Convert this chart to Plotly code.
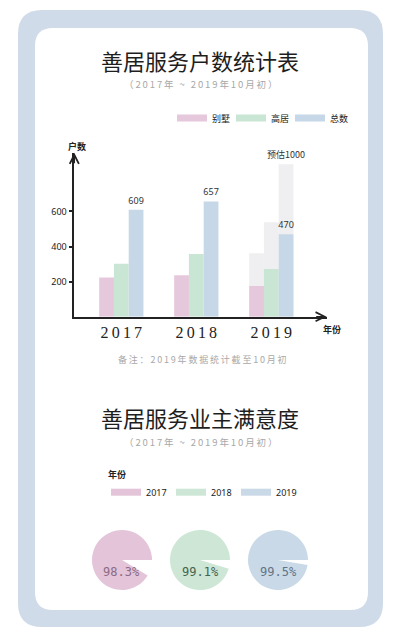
import plotly.graph_objects as go

W, H = 395, 643

# ---------------- data ----------------
years = [2017, 2018, 2019]
year_labels = ["2017", "2018", "2019"]
villa = [224, 236, 175]          # 别墅
highrise = [302, 357, 272]       # 高居
total = [609, 657, 470]          # 总数
total_text = ["609", "657", "470"]
est_year = [2019]
est_villa = [361]
est_highrise = [538]
est_total = [868]
est_text = ["预估1000"]
y_ticks = [200, 400, 600]

sat_years = ["2017", "2018", "2019"]
satisfaction = [98.3, 99.1, 99.5]

series_names = ["别墅", "高居", "总数"]

# ---------------- style ----------------
PINK, GREEN, BLUE = "#e6c8dc", "#c9e5d3", "#c6d8e7"
PIE_COLORS = ["#e3c4d9", "#cde6d5", "#c9d9e7"]
PIE_TEXT = ["#8a6a85", "#45624f", "#627386"]
GHOST = "#efeff1"
FRAME = "#cfdbe8"
GAP_SCALE = 5.5  # visual exaggeration of the unsatisfied wedge, as in the reference
THIN = "\u2009"

def spaced(s):
    return THIN.join(list(s))

def px(x):
    return x / W

def py(y):
    return 1 - y / H

def rounded(x0, y0, x1, y1, r):
    pts = [
        ("M", (x0 + r, y0)), ("L", (x1 - r, y0)),
        ("Q", (x1, y0), (x1, y0 + r)), ("L", (x1, y1 - r)),
        ("Q", (x1, y1), (x1 - r, y1)), ("L", (x0 + r, y1)),
        ("Q", (x0, y1), (x0, y1 - r)), ("L", (x0, y0 + r)),
        ("Q", (x0, y0), (x0 + r, y0)),
    ]
    s = ""
    for p in pts:
        s += p[0] + " " + " ".join(f"{px(a):.5f},{py(b):.5f}" for a, b in p[1:]) + " "
    return s + "Z"

fig = go.Figure()

# ghost (estimated) bars behind
for vals, grp in [(est_villa, "a"), (est_highrise, "b")]:
    fig.add_trace(go.Bar(x=est_year, y=vals, marker_color=GHOST, offsetgroup=grp,
                         showlegend=False, hoverinfo="skip", marker_line_width=0))
fig.add_trace(go.Bar(x=est_year, y=est_total, marker_color=GHOST, offsetgroup="c",
                     text=est_text, textposition="outside", cliponaxis=False, constraintext="none",
                     textfont=dict(size=9, color="#333", family="Noto Sans CJK SC"),
                     showlegend=False, hoverinfo="skip", marker_line_width=0))

# main bars
for name, vals, col, grp in [(series_names[0], villa, PINK, "a"),
                             (series_names[1], highrise, GREEN, "b")]:
    fig.add_trace(go.Bar(x=years, y=vals, name=name, marker_color=col, offsetgroup=grp,
                         showlegend=False, marker_line_width=0))
fig.add_trace(go.Bar(x=years, y=total, name=series_names[2], marker_color=BLUE, offsetgroup="c",
                     text=total_text, textposition="outside", cliponaxis=False, constraintext="none",
                     textfont=dict(size=9, color="#333", family="Noto Sans"),
                     showlegend=False, marker_line_width=0))

# legend entries for bar chart
for name, col in zip(series_names, [PINK, GREEN, BLUE]):
    fig.add_trace(go.Scatter(x=[None], y=[None], mode="lines", name=name,
                             line=dict(color=col, width=7), legend="legend"))

# legend entries for pies
for yl, col in zip(sat_years, PIE_COLORS):
    fig.add_trace(go.Scatter(x=[None], y=[None], mode="lines", name=yl,
                             line=dict(color=col, width=7), legend="legend2"))

# pies
pie_cx = [122, 200, 278]
pie_cy = 560
pie_r = 30
annotations = []
for i, v in enumerate(satisfaction):
    cx = pie_cx[i]
    fig.add_trace(go.Pie(
        values=[(100 - v) * GAP_SCALE, v], labels=["未满意", "满意"],
        sort=False, direction="counterclockwise", rotation=90,
        marker=dict(colors=["rgba(0,0,0,0)", PIE_COLORS[i]], line=dict(width=0)),
        textinfo="none", hoverinfo="skip", showlegend=False,
        domain=dict(x=[px(cx - pie_r), px(cx + pie_r)], y=[py(pie_cy + pie_r), py(pie_cy - pie_r)]),
    ))
    annotations.append(dict(x=px(cx), y=py(pie_cy + 12), xref="paper", yref="paper",
                            xanchor="center", yanchor="middle",
                            text=f"{v}%", showarrow=False,
                            font=dict(size=12, color=PIE_TEXT[i], family="DejaVu Sans Mono")))

# bar chart geometry
y0_px, ytop_px = 316.7, 152.7
xl_px, xr_px = 74.3, 326.7
scale = 0.1755  # px per unit
ymax = (y0_px - ytop_px) / scale
x_lo = 2017 - (121.3 - xl_px) / 75.0
x_hi = 2019 + (xr_px - 271.3) / 75.0

# titles & text
def ann(x, y, text, size, color, family="Noto Sans CJK SC"):
    annotations.append(dict(x=px(x), y=py(y), xref="paper", yref="paper", text=text,
                            xanchor="center", yanchor="middle",
                            showarrow=False, font=dict(size=size, color=color, family=family)))

ann(200, 60, "善居服务户数统计表", 22, "#1e1e1e")
ann(200, 84, spaced("（2017年 ~ 2019年10月初）"), 9.5, "#a8a8a8")
ann(203, 359, spaced("备注：2019年数据统计截至10月初"), 9, "#a8a8a8")
ann(200, 417, "善居服务业主满意度", 22, "#1e1e1e")
ann(200, 442, spaced("（2017年 ~ 2019年10月初）"), 9.5, "#a8a8a8")
ann(77, 146, "<b>户数</b>", 9, "#222")
ann(332, 329, "<b>年份</b>", 9, "#222")

# axis arrowheads
annotations.append(dict(x=x_lo, y=ymax, xref="x", yref="y", ax=0, ay=12, showarrow=True,
                        arrowhead=5, arrowsize=1.2, arrowwidth=1.5, arrowcolor="#222", text=""))
annotations.append(dict(x=x_hi, y=0, xref="x", yref="y", ax=-12, ay=0, showarrow=True,
                        arrowhead=5, arrowsize=1.2, arrowwidth=1.5, arrowcolor="#222", text=""))

shapes = [
    dict(type="path", path=rounded(18, 10, 383, 627, 24), xref="paper", yref="paper",
         fillcolor=FRAME, line=dict(width=0), layer="below"),
    dict(type="path", path=rounded(35, 28, 368, 610, 18), xref="paper", yref="paper",
         fillcolor="white", line=dict(width=0), layer="below"),
]

fig.update_layout(
    width=W, height=H, margin=dict(l=0, r=0, t=0, b=0),
    paper_bgcolor="white", plot_bgcolor="rgba(0,0,0,0)",
    barmode="group", bargap=0.41, bargroupgap=0,
    showlegend=True,
    xaxis=dict(domain=[px(xl_px), px(xr_px)], range=[x_lo, x_hi], tickvals=years,
               ticktext=[spaced(t) for t in year_labels], showgrid=False, zeroline=False,
               showline=True, linecolor="#222", linewidth=1.6, ticks="", fixedrange=True,
               tickfont=dict(size=16, color="#222", family="Liberation Serif")),
    yaxis=dict(domain=[py(y0_px), py(ytop_px)], range=[0, ymax], tickvals=y_ticks,
               showgrid=False, zeroline=False, showline=True, linecolor="#222", linewidth=1.6,
               ticks="outside", ticklen=4, tickwidth=1.5, tickcolor="#222",
               tickfont=dict(size=9, color="#222", family="Noto Sans"), fixedrange=True),
    legend=dict(orientation="h", x=px(172), y=py(118), xanchor="left", yanchor="middle",
                font=dict(size=9, color="#222", family="Noto Sans CJK SC"),
                bgcolor="rgba(0,0,0,0)", itemwidth=30, entrywidth=14, entrywidthmode="pixels"),
    legend2=dict(orientation="h", x=px(106), y=py(466), xanchor="left", yanchor="top",
                 title=dict(text="<b>年份</b>", side="top",
                            font=dict(size=9, color="#222", family="Noto Sans CJK SC")),
                 font=dict(size=9, color="#222", family="Noto Sans"),
                 bgcolor="rgba(0,0,0,0)", itemwidth=30, entrywidth=20, entrywidthmode="pixels"),
    annotations=annotations,
    shapes=shapes,
)

fig.write_html("out.html")
